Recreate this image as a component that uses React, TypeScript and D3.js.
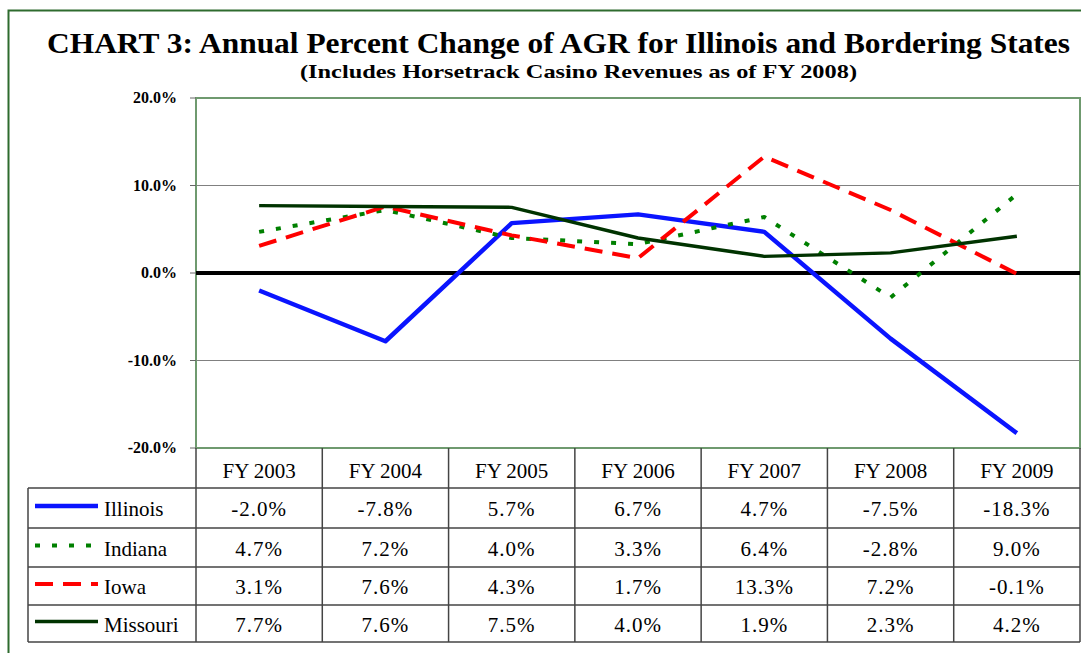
import React, { useRef, useEffect } from 'react';
import * as d3 from 'd3';

const years = ['FY 2003', 'FY 2004', 'FY 2005', 'FY 2006', 'FY 2007', 'FY 2008', 'FY 2009'];
const states = ['Illinois', 'Indiana', 'Iowa', 'Missouri'];
const illinois = [-2.0, -7.8, 5.7, 6.7, 4.7, -7.5, -18.3];
const indiana = [4.7, 7.2, 4.0, 3.3, 6.4, -2.8, 9.0];
const iowa = [3.1, 7.6, 4.3, 1.7, 13.3, 7.2, -0.1];
const missouri = [7.7, 7.6, 7.5, 4.0, 1.9, 2.3, 4.2];
const yTicks = [20, 10, 0, -10, -20];

const pct = (d: number) => d.toFixed(1) + '%';

const App = () => {
    const svgRef = useRef(null);

    useEffect(() => {
        const svg = d3.select(svgRef.current);
        svg.selectAll('*').remove();

        const left = 196, right = 1080, top = 98, bottom = 448;
        const rowH = [488, 528, 567, 605, 642];
        const serif = '"Liberation Serif", "Times New Roman", serif';

        const x = d3.scaleBand().domain(years).range([left, right]);
        const y = d3.scaleLinear().domain([-20, 20]).range([bottom, top]);

        const series = [
            { name: states[0], values: illinois, color: '#0a14ff', width: 4.5, dash: null },
            { name: states[1], values: indiana, color: '#008000', width: 4, dash: '5,12' },
            { name: states[2], values: iowa, color: '#ff0000', width: 4, dash: '18,10' },
            { name: states[3], values: missouri, color: '#003300', width: 3.5, dash: null },
        ];

        // outer frame
        svg.append('rect')
            .attr('x', 8.5).attr('y', 10.5).attr('width', 1100).attr('height', 700)
            .attr('fill', 'none').attr('stroke', '#2e6b2e').attr('stroke-width', 2);

        // titles
        svg.append('text')
            .attr('x', 47).attr('y', 53)
            .attr('textLength', 1023).attr('lengthAdjust', 'spacingAndGlyphs')
            .style('font-family', serif).style('font-weight', 'bold').style('font-size', '29px')
            .text('CHART 3: Annual Percent Change of AGR for Illinois and Bordering States');
        svg.append('text')
            .attr('x', 300).attr('y', 78)
            .attr('textLength', 557).attr('lengthAdjust', 'spacingAndGlyphs')
            .style('font-family', serif).style('font-weight', 'bold').style('font-size', '19px')
            .text('(Includes Horsetrack Casino Revenues as of FY 2008)');

        // gridlines
        svg.append('g').selectAll('line').data(yTicks.filter(d => d !== 0 && d !== 20 && d !== -20))
            .enter().append('line')
            .attr('x1', left).attr('x2', right)
            .attr('y1', d => y(d)).attr('y2', d => y(d))
            .attr('stroke', '#808080').attr('stroke-width', 1.2);

        // plot border
        svg.append('rect')
            .attr('x', left).attr('y', top).attr('width', right - left).attr('height', bottom - top)
            .attr('fill', 'none').attr('stroke', '#6f9a6f').attr('stroke-width', 2);

        // ticks and labels
        const yAxis = svg.append('g');
        yAxis.selectAll('line').data(yTicks).enter().append('line')
            .attr('x1', left - 6).attr('x2', left)
            .attr('y1', d => y(d)).attr('y2', d => y(d))
            .attr('stroke', '#666').attr('stroke-width', 1);
        yAxis.selectAll('text').data(yTicks).enter().append('text')
            .attr('x', 177).attr('y', d => y(d) + 5)
            .attr('text-anchor', 'end')
            .style('font-family', serif).style('font-weight', 'bold').style('font-size', '16px')
            .text(d => pct(d));

        // zero line
        svg.append('line')
            .attr('x1', left).attr('x2', right)
            .attr('y1', y(0)).attr('y2', y(0))
            .attr('stroke', '#000').attr('stroke-width', 4);

        // series
        series.forEach(s => {
            const line = d3.line<number>()
                .x((d, i) => x(years[i])! + x.bandwidth() / 2)
                .y(d => y(d));
            svg.append('path')
                .datum(s.values)
                .attr('d', line)
                .attr('fill', 'none')
                .attr('stroke', s.color)
                .attr('stroke-width', s.width)
                .attr('stroke-dasharray', s.dash)
                .attr('stroke-linejoin', 'round');
        });

        // data table
        const tbl = svg.append('g');
        const lineColor = '#444';
        rowH.forEach(r => {
            tbl.append('line').attr('x1', 28).attr('x2', right).attr('y1', r).attr('y2', r)
                .attr('stroke', lineColor).attr('stroke-width', 1.5);
        });
        tbl.append('line').attr('x1', 28).attr('x2', 28).attr('y1', rowH[0]).attr('y2', rowH[4])
            .attr('stroke', lineColor).attr('stroke-width', 1.5);
        years.concat(['end']).forEach((yr, i) => {
            const xx = i < years.length ? x(yr)! : right;
            tbl.append('line').attr('x1', xx).attr('x2', xx).attr('y1', bottom).attr('y2', rowH[4])
                .attr('stroke', lineColor).attr('stroke-width', 1.5);
        });
        tbl.selectAll('text.hdr').data(years).enter().append('text')
            .attr('class', 'hdr')
            .attr('x', d => x(d)! + x.bandwidth() / 2).attr('y', 478)
            .attr('text-anchor', 'middle')
            .style('font-family', serif).style('font-size', '21px')
            .text(d => d);

        series.forEach((s, r) => {
            const cy = (rowH[r] + rowH[r + 1]) / 2;
            tbl.append('line')
                .attr('x1', 35).attr('x2', 98).attr('y1', cy - 2).attr('y2', cy - 2)
                .attr('stroke', s.color).attr('stroke-width', s.width)
                .attr('stroke-dasharray', s.dash);
            tbl.append('text')
                .attr('x', 104).attr('y', cy + 8)
                .style('font-family', serif).style('font-size', '21px')
                .text(s.name);
            tbl.selectAll('text.v' + r).data(s.values).enter().append('text')
                .attr('class', 'v' + r)
                .attr('x', (d, i) => x(years[i])! + x.bandwidth() / 2).attr('y', cy + 8)
                .attr('text-anchor', 'middle')
                .style('font-family', serif).style('font-size', '21px')
                .style('letter-spacing', '1px')
                .text(d => pct(d));
        });
    }, []);

    return (
        <svg ref={svgRef} width={1081} height={653}
            style={{ position: 'absolute', left: 0, top: 0, background: '#fff' }} />
    );
};

export default App;
